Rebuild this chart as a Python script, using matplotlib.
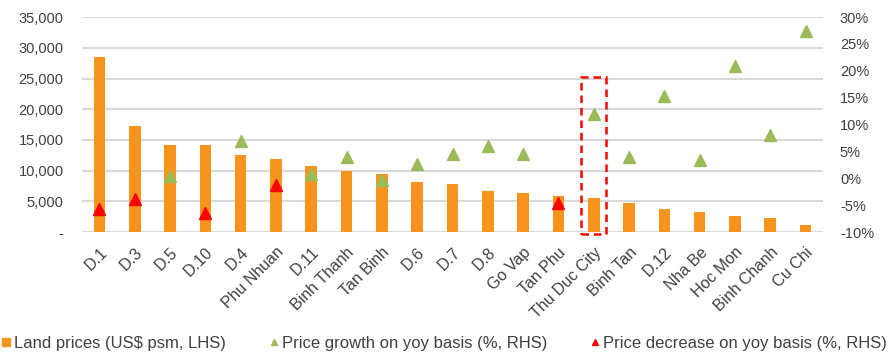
import matplotlib.pyplot as plt
import numpy as np
from matplotlib.lines import Line2D
from matplotlib.patches import Rectangle
from matplotlib.ticker import FuncFormatter

DISTRICTS = [
    "D.1", "D.3", "D.5", "D.10", "D.4", "Phu Nhuan", "D.11", "Binh Thanh",
    "Tan Binh", "D.6", "D.7", "D.8", "Go Vap", "Tan Phu", "Thu Duc City",
    "Binh Tan", "D.12", "Nha Be", "Hoc Mon", "Binh Chanh", "Cu Chi",
]
LAND_PRICE = [
    28500, 17300, 14100, 14100, 12500, 11900, 10700, 9900,
    9500, 8100, 7900, 6750, 6350, 5950, 5500,
    4750, 3700, 3300, 2700, 2350, 1100,
]
YOY_GROWTH = [
    -5.7, -3.8, 0.5, -6.5, 6.9, -1.3, 0.8, 4.0,
    -0.3, 2.6, 4.6, 6.0, 4.6, -4.6, 12.0,
    4.0, 15.4, 3.5, 20.9, 8.1, 27.4,
]
HIGHLIGHT = "Thu Duc City"

ORANGE = "#F7941D"
GREEN = "#9BBB59"
RED = "#FF0000"
TEXT = "#404040"
GRID = "#D9D9D9"

plt.rcParams["font.family"] = ["Liberation Sans", "DejaVu Sans"]

fig = plt.figure(figsize=(8.89, 3.56), dpi=100)
ax = fig.add_axes([0.092, 0.348, 0.834, 0.604])
ax2 = ax.twinx()

x = np.arange(len(DISTRICTS))
growth = np.array(YOY_GROWTH)
ax.bar(x, LAND_PRICE, width=0.33, color=ORANGE, zorder=2)

up = growth >= -0.5
ax2.plot(x[up], growth[up], linestyle="none", marker="^", ms=8.5,
         color=GREEN, zorder=3)
ax2.plot(x[~up], growth[~up], linestyle="none", marker="^", ms=8.5,
         color=RED, zorder=3)

ax.set_xlim(-0.5, len(DISTRICTS) - 0.5)
ax.set_ylim(0, 35000)
ax.set_yticks(np.arange(0, 35001, 5000))
ax.yaxis.set_major_formatter(FuncFormatter(lambda v, p: "-" if v == 0 else f"{v:,.0f}"))
ax2.set_ylim(-10, 30)
ax2.set_yticks(np.arange(-10, 31, 5))
ax2.yaxis.set_major_formatter(FuncFormatter(lambda v, p: f"{v:.0f}%"))

ax.grid(axis="y", color=GRID, linewidth=1.5, zorder=0)
ax.set_axisbelow(True)
for a in (ax, ax2):
    for s in a.spines.values():
        s.set_visible(False)
    a.tick_params(length=0, labelsize=10.5, labelcolor=TEXT)
ax.tick_params(axis="y", pad=13)
ax2.tick_params(axis="y", pad=12)

ax.set_xticks(x)
ax.set_xticklabels(DISTRICTS, rotation=45, ha="right", rotation_mode="anchor")
ax.tick_params(axis="x", pad=9, labelsize=11.5)

# dashed highlight box
i = DISTRICTS.index(HIGHLIGHT)
box = Rectangle((i - 0.36, -330), 0.72, 25650, fill=False, edgecolor=RED,
                linestyle=(0, (3, 2)), linewidth=1.8, clip_on=False, zorder=4)
ax.add_patch(box)

handles = [
    Line2D([], [], linestyle="none", marker="s", ms=6, color=ORANGE,
           label="Land prices (US$ psm, LHS)"),
    Line2D([], [], linestyle="none", marker="^", ms=4.5, color=GREEN,
           label="Price growth on yoy basis (%, RHS)"),
    Line2D([], [], linestyle="none", marker="^", ms=4.5, color=RED,
           label="Price decrease on yoy basis (%, RHS)"),
]
leg = fig.legend(handles=handles, loc="lower center", bbox_to_anchor=(0.5, -0.028),
                 ncol=3, frameon=False, fontsize=12, handlelength=0.5,
                 handletextpad=0.25, columnspacing=2.6)
for t in leg.get_texts():
    t.set_color(TEXT)

fig.savefig("out.png", dpi=100)
